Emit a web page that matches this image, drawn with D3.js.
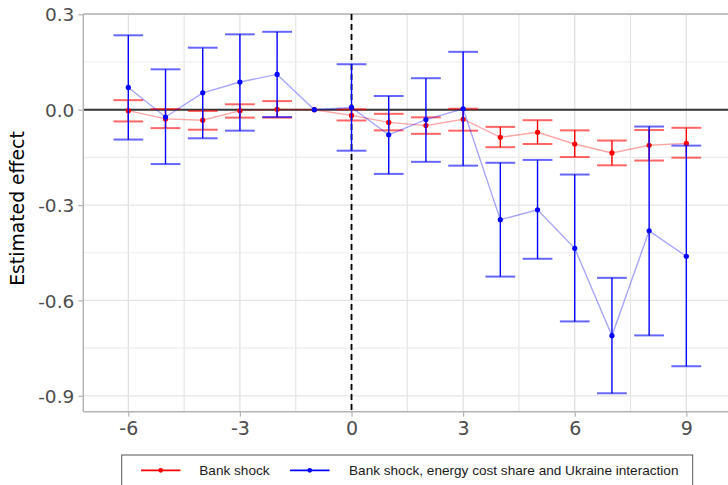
<!DOCTYPE html>
<html>
<head>
<meta charset="utf-8">
<script src="https://cdn.jsdelivr.net/npm/d3@7"></script>
<style>
  body { margin: 0; background: #fff; }
  svg { display: block; }
</style>
</head>
<body>
<div id="chart-area"></div>
<script>
// event-study estimates, period -1 is the reference (no CI)
const periods = [-6, -5, -4, -3, -2, -1, 0, 1, 2, 3, 4, 5, 6, 7, 8, 9];

const bankEst = [-0.003, -0.029, -0.033, -0.003, 0.001, 0, -0.018, -0.040, -0.050, -0.030, -0.087, -0.071, -0.108, -0.136, -0.112, -0.106];
const bankLo  = [-0.037, -0.058, -0.063, -0.025, -0.025, null, -0.034, -0.065, -0.076, -0.066, -0.118, -0.108, -0.149, -0.175, -0.160, -0.151];
const bankHi  = [0.030, 0.002, -0.004, 0.017, 0.027, null, 0.001, -0.013, -0.024, 0.003, -0.054, -0.033, -0.065, -0.097, -0.064, -0.057];

const interEst = [0.070, -0.023, 0.053, 0.087, 0.111, 0, 0.007, -0.079, -0.031, 0.003, -0.346, -0.315, -0.436, -0.711, -0.381, -0.461];
const interLo  = [-0.094, -0.171, -0.090, -0.066, -0.023, null, -0.129, -0.202, -0.164, -0.176, -0.525, -0.469, -0.666, -0.892, -0.710, -0.807];
const interHi  = [0.234, 0.127, 0.195, 0.237, 0.245, null, 0.143, 0.043, 0.099, 0.182, -0.167, -0.158, -0.204, -0.529, -0.053, -0.113];

const seriesNames = ["Bank shock", "Bank shock, energy cost share and Ukraine interaction"];
const seriesColors = ["#ff0000", "#0000ff"];

const xTicks = [-6, -3, 0, 3, 6, 9];
const xMinor = [-4.5, -1.5, 1.5, 4.5, 7.5];
const yTicks = [0.3, 0, -0.3, -0.6, -0.9];
const yMinor = [0.15, -0.15, -0.45, -0.75];

const W = 728, H = 485;
const panel = { left: 83.3, top: 14, right: 728, bottom: 411.7 };

const svg = d3.select("#chart-area")
  .append("svg")
  .attr("width", W)
  .attr("height", H);

const x = d3.scaleLinear().domain([-7.21, 10.12]).range([panel.left, panel.right]);
const y = d3.scaleLinear().domain([-0.950, 0.301]).range([panel.bottom, panel.top]);

const grid = svg.append("g");
grid.selectAll(".vmin").data(xMinor).enter().append("line")
  .attr("x1", d => x(d)).attr("x2", d => x(d))
  .attr("y1", panel.top).attr("y2", panel.bottom)
  .attr("stroke", "#e6e6e6").attr("stroke-width", 1.2);
grid.selectAll(".vmaj").data(xTicks).enter().append("line")
  .attr("x1", d => x(d)).attr("x2", d => x(d))
  .attr("y1", panel.top).attr("y2", panel.bottom)
  .attr("stroke", "#dedede").attr("stroke-width", 1.2);
grid.selectAll(".hmin").data(yMinor).enter().append("line")
  .attr("x1", panel.left).attr("x2", panel.right)
  .attr("y1", d => y(d)).attr("y2", d => y(d))
  .attr("stroke", "#ececec").attr("stroke-width", 1.2);
grid.selectAll(".hmaj").data(yTicks).enter().append("line")
  .attr("x1", panel.left).attr("x2", panel.right)
  .attr("y1", d => y(d)).attr("y2", d => y(d))
  .attr("stroke", "#e6e6e6").attr("stroke-width", 1.2);

// top border
svg.append("line")
  .attr("x1", panel.left).attr("x2", panel.right)
  .attr("y1", panel.top).attr("y2", panel.top)
  .attr("stroke", "#b3b3b3").attr("stroke-width", 1.5);

// zero line and event line
svg.append("line")
  .attr("x1", panel.left).attr("x2", panel.right)
  .attr("y1", y(0)).attr("y2", y(0))
  .attr("stroke", "#333").attr("stroke-width", 2);
svg.append("line")
  .attr("x1", x(0)).attr("x2", x(0))
  .attr("y1", panel.top).attr("y2", panel.bottom)
  .attr("stroke", "#000").attr("stroke-width", 1.8)
  .attr("stroke-dasharray", "6,4");

// axes (plain hyphen for negatives, as in the original)
const fmtX = d => String(d);
const fmtY = d => d3.format(".1f")(d).replace("−", "-");
const xAxis = svg.append("g")
  .attr("transform", `translate(0,${panel.bottom})`)
  .call(d3.axisBottom(x).tickValues(xTicks).tickSize(5).tickPadding(5).tickFormat(fmtX));
const yAxis = svg.append("g")
  .attr("transform", `translate(${panel.left},0)`)
  .call(d3.axisLeft(y).tickValues(yTicks).tickSize(5).tickPadding(4).tickFormat(fmtY));
xAxis.select(".domain").attr("stroke", "#b3b3b3").attr("stroke-width", 1.5).attr("d", `M${panel.left},0H${panel.right}`);
yAxis.select(".domain").attr("stroke", "#b3b3b3").attr("stroke-width", 1.5).attr("d", `M0,${panel.top}V${panel.bottom}`);
xAxis.selectAll(".tick line").attr("stroke", "#b3b3b3").attr("stroke-width", 1.2);
yAxis.selectAll(".tick line").attr("stroke", "#b3b3b3").attr("stroke-width", 1.2);
xAxis.selectAll("text").attr("fill", "#4d4d4d").style("font-family", "DejaVu Sans").style("font-size", "19px");
yAxis.selectAll("text").attr("fill", "#4d4d4d").style("font-family", "DejaVu Sans").style("font-size", "18.5px").attr("dy", "0.36em");

svg.append("text")
  .attr("transform", `translate(23.5,208.5) rotate(-90)`)
  .attr("text-anchor", "middle")
  .style("font-family", "DejaVu Sans")
  .style("font-size", "18.8px")
  .attr("fill", "#000")
  .text("Estimated effect");

// series
const series = [
  { est: bankEst, lo: bankLo, hi: bankHi, color: seriesColors[0] },
  { est: interEst, lo: interLo, hi: interHi, color: seriesColors[1] }
];
const capHalf = 0.4;

series.forEach(s => {
  const rows = periods.map((p, i) => ({ p, est: s.est[i], lo: s.lo[i], hi: s.hi[i] }));
  const withCI = rows.filter(d => d.lo !== null);
  const g = svg.append("g");

  g.append("path")
    .datum(rows)
    .attr("fill", "none")
    .attr("stroke", s.color)
    .attr("stroke-opacity", 0.35)
    .attr("stroke-width", 1.4)
    .attr("d", d3.line().x(d => x(d.p)).y(d => y(d.est)));

  g.selectAll(".cap-hi").data(withCI).enter().append("line")
    .attr("x1", d => x(d.p - capHalf)).attr("x2", d => x(d.p + capHalf))
    .attr("y1", d => y(d.hi)).attr("y2", d => y(d.hi))
    .attr("stroke", s.color).attr("stroke-opacity", 0.6).attr("stroke-width", 2);
  g.selectAll(".cap-lo").data(withCI).enter().append("line")
    .attr("x1", d => x(d.p - capHalf)).attr("x2", d => x(d.p + capHalf))
    .attr("y1", d => y(d.lo)).attr("y2", d => y(d.lo))
    .attr("stroke", s.color).attr("stroke-opacity", 0.6).attr("stroke-width", 2);
  g.selectAll(".stem").data(withCI).enter().append("line")
    .attr("x1", d => x(d.p)).attr("x2", d => x(d.p))
    .attr("y1", d => y(d.lo)).attr("y2", d => y(d.hi))
    .attr("stroke", s.color).attr("stroke-width", 1.4);

  g.selectAll(".pt").data(rows).enter().append("circle")
    .attr("cx", d => x(d.p)).attr("cy", d => y(d.est))
    .attr("r", 2.6)
    .attr("fill", s.color);
});

// legend
const legend = svg.append("g");
legend.append("rect")
  .attr("x", 121.7).attr("y", 455)
  .attr("width", 571).attr("height", 45)
  .attr("fill", "#fff").attr("stroke", "#555").attr("stroke-width", 1);
const keyX = [141, 290];
const textX = [199.3, 349];
seriesNames.forEach((name, i) => {
  legend.append("line")
    .attr("x1", keyX[i]).attr("x2", keyX[i] + 39.5)
    .attr("y1", 470.3).attr("y2", 470.3)
    .attr("stroke", seriesColors[i]).attr("stroke-width", 1.8);
  legend.append("circle")
    .attr("cx", keyX[i] + 19.7).attr("cy", 470.3).attr("r", 2.4)
    .attr("fill", seriesColors[i]);
  legend.append("text")
    .attr("x", textX[i]).attr("y", 475)
    .style("font-family", "Liberation Sans, Arial, sans-serif")
    .style("font-size", "13.6px")
    .attr("fill", "#1a1a1a")
    .text(name);
});
</script>
</body>
</html>
